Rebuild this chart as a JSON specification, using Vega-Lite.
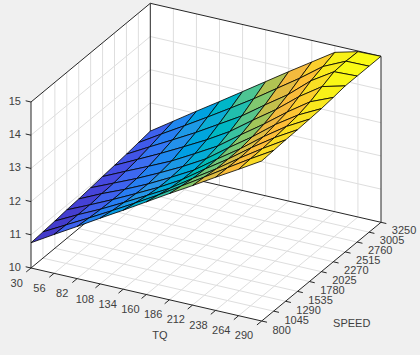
{"$schema":"https://vega.github.io/schema/vega-lite/v6.json","width":420,"height":355,"padding":0,"autosize":{"type":"fit","contains":"padding"},"background":"#f0f0f0","config":{"view":{"stroke":null}},
"datasets":{
"wall":[{"tq":30,"speed":800,"z":10,"k":0},{"tq":290,"speed":800,"z":10,"k":1},{"tq":290,"speed":3250,"z":10,"k":2},{"tq":290,"speed":3250,"z":15,"k":3},{"tq":30,"speed":3250,"z":15,"k":4},{"tq":30,"speed":800,"z":15,"k":5}],
"grid":[
{"tq":56,"speed":800,"z":10,"tq2":56,"speed2":3250,"z2":10},{"tq":82,"speed":800,"z":10,"tq2":82,"speed2":3250,"z2":10},{"tq":108,"speed":800,"z":10,"tq2":108,"speed2":3250,"z2":10},{"tq":134,"speed":800,"z":10,"tq2":134,"speed2":3250,"z2":10},{"tq":160,"speed":800,"z":10,"tq2":160,"speed2":3250,"z2":10},{"tq":186,"speed":800,"z":10,"tq2":186,"speed2":3250,"z2":10},{"tq":212,"speed":800,"z":10,"tq2":212,"speed2":3250,"z2":10},{"tq":238,"speed":800,"z":10,"tq2":238,"speed2":3250,"z2":10},{"tq":264,"speed":800,"z":10,"tq2":264,"speed2":3250,"z2":10},
{"tq":30,"speed":1045,"z":10,"tq2":290,"speed2":1045,"z2":10},{"tq":30,"speed":1290,"z":10,"tq2":290,"speed2":1290,"z2":10},{"tq":30,"speed":1535,"z":10,"tq2":290,"speed2":1535,"z2":10},{"tq":30,"speed":1780,"z":10,"tq2":290,"speed2":1780,"z2":10},{"tq":30,"speed":2025,"z":10,"tq2":290,"speed2":2025,"z2":10},{"tq":30,"speed":2270,"z":10,"tq2":290,"speed2":2270,"z2":10},{"tq":30,"speed":2515,"z":10,"tq2":290,"speed2":2515,"z2":10},{"tq":30,"speed":2760,"z":10,"tq2":290,"speed2":2760,"z2":10},{"tq":30,"speed":3005,"z":10,"tq2":290,"speed2":3005,"z2":10},
{"tq":56,"speed":3250,"z":10,"tq2":56,"speed2":3250,"z2":15},{"tq":82,"speed":3250,"z":10,"tq2":82,"speed2":3250,"z2":15},{"tq":108,"speed":3250,"z":10,"tq2":108,"speed2":3250,"z2":15},{"tq":134,"speed":3250,"z":10,"tq2":134,"speed2":3250,"z2":15},{"tq":160,"speed":3250,"z":10,"tq2":160,"speed2":3250,"z2":15},{"tq":186,"speed":3250,"z":10,"tq2":186,"speed2":3250,"z2":15},{"tq":212,"speed":3250,"z":10,"tq2":212,"speed2":3250,"z2":15},{"tq":238,"speed":3250,"z":10,"tq2":238,"speed2":3250,"z2":15},{"tq":264,"speed":3250,"z":10,"tq2":264,"speed2":3250,"z2":15},
{"tq":30,"speed":1045,"z":10,"tq2":30,"speed2":1045,"z2":15},{"tq":30,"speed":1290,"z":10,"tq2":30,"speed2":1290,"z2":15},{"tq":30,"speed":1535,"z":10,"tq2":30,"speed2":1535,"z2":15},{"tq":30,"speed":1780,"z":10,"tq2":30,"speed2":1780,"z2":15},{"tq":30,"speed":2025,"z":10,"tq2":30,"speed2":2025,"z2":15},{"tq":30,"speed":2270,"z":10,"tq2":30,"speed2":2270,"z2":15},{"tq":30,"speed":2515,"z":10,"tq2":30,"speed2":2515,"z2":15},{"tq":30,"speed":2760,"z":10,"tq2":30,"speed2":2760,"z2":15},{"tq":30,"speed":3005,"z":10,"tq2":30,"speed2":3005,"z2":15},
{"tq":30,"speed":800,"z":11,"tq2":30,"speed2":3250,"z2":11},{"tq":30,"speed":800,"z":12,"tq2":30,"speed2":3250,"z2":12},{"tq":30,"speed":800,"z":13,"tq2":30,"speed2":3250,"z2":13},{"tq":30,"speed":800,"z":14,"tq2":30,"speed2":3250,"z2":14},
{"tq":30,"speed":3250,"z":11,"tq2":290,"speed2":3250,"z2":11},{"tq":30,"speed":3250,"z":12,"tq2":290,"speed2":3250,"z2":12},{"tq":30,"speed":3250,"z":13,"tq2":290,"speed2":3250,"z2":13},{"tq":30,"speed":3250,"z":14,"tq2":290,"speed2":3250,"z2":14}],
"box":[
{"tq":30,"speed":800,"z":10,"tq2":290,"speed2":800,"z2":10},{"tq":290,"speed":800,"z":10,"tq2":290,"speed2":3250,"z2":10},{"tq":30,"speed":800,"z":10,"tq2":30,"speed2":3250,"z2":10},{"tq":30,"speed":3250,"z":10,"tq2":290,"speed2":3250,"z2":10},{"tq":30,"speed":800,"z":10,"tq2":30,"speed2":800,"z2":15},{"tq":30,"speed":3250,"z":10,"tq2":30,"speed2":3250,"z2":15},{"tq":290,"speed":3250,"z":10,"tq2":290,"speed2":3250,"z2":15},{"tq":30,"speed":800,"z":15,"tq2":30,"speed2":3250,"z2":15},{"tq":30,"speed":3250,"z":15,"tq2":290,"speed2":3250,"z2":15},
{"tq":30,"speed":800,"z":10,"tq2":30,"speed2":702,"z2":10},{"tq":56,"speed":800,"z":10,"tq2":56,"speed2":702,"z2":10},{"tq":82,"speed":800,"z":10,"tq2":82,"speed2":702,"z2":10},{"tq":108,"speed":800,"z":10,"tq2":108,"speed2":702,"z2":10},{"tq":134,"speed":800,"z":10,"tq2":134,"speed2":702,"z2":10},{"tq":160,"speed":800,"z":10,"tq2":160,"speed2":702,"z2":10},{"tq":186,"speed":800,"z":10,"tq2":186,"speed2":702,"z2":10},{"tq":212,"speed":800,"z":10,"tq2":212,"speed2":702,"z2":10},{"tq":238,"speed":800,"z":10,"tq2":238,"speed2":702,"z2":10},{"tq":264,"speed":800,"z":10,"tq2":264,"speed2":702,"z2":10},{"tq":290,"speed":800,"z":10,"tq2":290,"speed2":702,"z2":10},
{"tq":290,"speed":800,"z":10,"tq2":296,"speed2":800,"z2":10},{"tq":290,"speed":1045,"z":10,"tq2":296,"speed2":1045,"z2":10},{"tq":290,"speed":1290,"z":10,"tq2":296,"speed2":1290,"z2":10},{"tq":290,"speed":1535,"z":10,"tq2":296,"speed2":1535,"z2":10},{"tq":290,"speed":1780,"z":10,"tq2":296,"speed2":1780,"z2":10},{"tq":290,"speed":2025,"z":10,"tq2":296,"speed2":2025,"z2":10},{"tq":290,"speed":2270,"z":10,"tq2":296,"speed2":2270,"z2":10},{"tq":290,"speed":2515,"z":10,"tq2":296,"speed2":2515,"z2":10},{"tq":290,"speed":2760,"z":10,"tq2":296,"speed2":2760,"z2":10},{"tq":290,"speed":3005,"z":10,"tq2":296,"speed2":3005,"z2":10},{"tq":290,"speed":3250,"z":10,"tq2":296,"speed2":3250,"z2":10},
{"tq":30,"speed":800,"z":10,"tq2":24,"speed2":800,"z2":10},{"tq":30,"speed":800,"z":11,"tq2":24,"speed2":800,"z2":11},{"tq":30,"speed":800,"z":12,"tq2":24,"speed2":800,"z2":12},{"tq":30,"speed":800,"z":13,"tq2":24,"speed2":800,"z2":13},{"tq":30,"speed":800,"z":14,"tq2":24,"speed2":800,"z2":14},{"tq":30,"speed":800,"z":15,"tq2":24,"speed2":800,"z2":15}],
"surface":[
{"tq":30,"speed":3250,"z":11.15},{"tq":56,"speed":3250,"z":11.61},{"tq":82,"speed":3250,"z":12.07},{"tq":108,"speed":3250,"z":12.52},{"tq":134,"speed":3250,"z":12.98},{"tq":160,"speed":3250,"z":13.44},{"tq":186,"speed":3250,"z":13.9},{"tq":212,"speed":3250,"z":14.35},{"tq":238,"speed":3250,"z":14.8},{"tq":264,"speed":3250,"z":14.98},{"tq":290,"speed":3250,"z":15},
{"tq":30,"speed":3005,"z":11.1},{"tq":56,"speed":3005,"z":11.52},{"tq":82,"speed":3005,"z":11.93},{"tq":108,"speed":3005,"z":12.35},{"tq":134,"speed":3005,"z":12.78},{"tq":160,"speed":3005,"z":13.22},{"tq":186,"speed":3005,"z":13.69},{"tq":212,"speed":3005,"z":14.16},{"tq":238,"speed":3005,"z":14.67},{"tq":264,"speed":3005,"z":14.99},{"tq":290,"speed":3005,"z":15},
{"tq":30,"speed":2760,"z":11.05},{"tq":56,"speed":2760,"z":11.43},{"tq":82,"speed":2760,"z":11.8},{"tq":108,"speed":2760,"z":12.18},{"tq":134,"speed":2760,"z":12.59},{"tq":160,"speed":2760,"z":13},{"tq":186,"speed":2760,"z":13.49},{"tq":212,"speed":2760,"z":13.96},{"tq":238,"speed":2760,"z":14.54},{"tq":264,"speed":2760,"z":14.97},{"tq":290,"speed":2760,"z":15},
{"tq":30,"speed":2515,"z":11.01},{"tq":56,"speed":2515,"z":11.35},{"tq":82,"speed":2515,"z":11.69},{"tq":108,"speed":2515,"z":12.05},{"tq":134,"speed":2515,"z":12.42},{"tq":160,"speed":2515,"z":12.83},{"tq":186,"speed":2515,"z":13.33},{"tq":212,"speed":2515,"z":13.81},{"tq":238,"speed":2515,"z":14.36},{"tq":264,"speed":2515,"z":14.82},{"tq":290,"speed":2515,"z":15},
{"tq":30,"speed":2270,"z":10.97},{"tq":56,"speed":2270,"z":11.29},{"tq":82,"speed":2270,"z":11.6},{"tq":108,"speed":2270,"z":11.92},{"tq":134,"speed":2270,"z":12.3},{"tq":160,"speed":2270,"z":12.69},{"tq":186,"speed":2270,"z":13.19},{"tq":212,"speed":2270,"z":13.67},{"tq":238,"speed":2270,"z":14.19},{"tq":264,"speed":2270,"z":14.66},{"tq":290,"speed":2270,"z":14.95},
{"tq":30,"speed":2025,"z":10.93},{"tq":56,"speed":2025,"z":11.23},{"tq":82,"speed":2025,"z":11.53},{"tq":108,"speed":2025,"z":11.86},{"tq":134,"speed":2025,"z":12.21},{"tq":160,"speed":2025,"z":12.6},{"tq":186,"speed":2025,"z":13.1},{"tq":212,"speed":2025,"z":13.58},{"tq":238,"speed":2025,"z":14.11},{"tq":264,"speed":2025,"z":14.56},{"tq":290,"speed":2025,"z":14.91},
{"tq":30,"speed":1780,"z":10.89},{"tq":56,"speed":1780,"z":11.21},{"tq":82,"speed":1780,"z":11.5},{"tq":108,"speed":1780,"z":11.82},{"tq":134,"speed":1780,"z":12.18},{"tq":160,"speed":1780,"z":12.56},{"tq":186,"speed":1780,"z":13.05},{"tq":212,"speed":1780,"z":13.52},{"tq":238,"speed":1780,"z":14.04},{"tq":264,"speed":1780,"z":14.51},{"tq":290,"speed":1780,"z":14.89},
{"tq":30,"speed":1535,"z":10.86},{"tq":56,"speed":1535,"z":11.17},{"tq":82,"speed":1535,"z":11.49},{"tq":108,"speed":1535,"z":11.83},{"tq":134,"speed":1535,"z":12.18},{"tq":160,"speed":1535,"z":12.57},{"tq":186,"speed":1535,"z":13.05},{"tq":212,"speed":1535,"z":13.51},{"tq":238,"speed":1535,"z":14.01},{"tq":264,"speed":1535,"z":14.47},{"tq":290,"speed":1535,"z":14.87},
{"tq":30,"speed":1290,"z":10.82},{"tq":56,"speed":1290,"z":11.17},{"tq":82,"speed":1290,"z":11.5},{"tq":108,"speed":1290,"z":11.86},{"tq":134,"speed":1290,"z":12.23},{"tq":160,"speed":1290,"z":12.61},{"tq":186,"speed":1290,"z":13.07},{"tq":212,"speed":1290,"z":13.51},{"tq":238,"speed":1290,"z":13.99},{"tq":264,"speed":1290,"z":14.44},{"tq":290,"speed":1290,"z":14.86},
{"tq":30,"speed":1045,"z":10.79},{"tq":56,"speed":1045,"z":11.16},{"tq":82,"speed":1045,"z":11.53},{"tq":108,"speed":1045,"z":11.91},{"tq":134,"speed":1045,"z":12.3},{"tq":160,"speed":1045,"z":12.7},{"tq":186,"speed":1045,"z":13.13},{"tq":212,"speed":1045,"z":13.56},{"tq":238,"speed":1045,"z":14},{"tq":264,"speed":1045,"z":14.43},{"tq":290,"speed":1045,"z":14.84},
{"tq":30,"speed":800,"z":10.76},{"tq":56,"speed":800,"z":11.17},{"tq":82,"speed":800,"z":11.57},{"tq":108,"speed":800,"z":11.98},{"tq":134,"speed":800,"z":12.38},{"tq":160,"speed":800,"z":12.79},{"tq":186,"speed":800,"z":13.2},{"tq":212,"speed":800,"z":13.6},{"tq":238,"speed":800,"z":14.01},{"tq":264,"speed":800,"z":14.41},{"tq":290,"speed":800,"z":14.82}]
},
"encoding":{"x":{"field":"px","type":"quantitative","axis":null,"scale":{"domain":[0,420],"nice":false,"zero":false}},"y":{"field":"py","type":"quantitative","axis":null,"scale":{"domain":[355,0],"nice":false,"zero":false}}},
"layer":[
{"data":{"name":"wall"},"transform":[{"calculate":"31+230.7*(datum.tq-30)/260+119.3*(datum.speed-800)/2450","as":"px"},{"calculate":"268+53*(datum.tq-30)/260-98.7*(datum.speed-800)/2450-33.2*(datum.z-10)","as":"py"}],
"mark":{"type":"line","interpolate":"linear-closed","fill":"#ffffff","stroke":null},"encoding":{"order":{"field":"k","type":"ordinal"}}},
{"data":{"name":"grid"},"transform":[{"calculate":"31+230.7*(datum.tq-30)/260+119.3*(datum.speed-800)/2450","as":"px"},{"calculate":"268+53*(datum.tq-30)/260-98.7*(datum.speed-800)/2450-33.2*(datum.z-10)","as":"py"},{"calculate":"31+230.7*(datum.tq2-30)/260+119.3*(datum.speed2-800)/2450","as":"px2"},{"calculate":"268+53*(datum.tq2-30)/260-98.7*(datum.speed2-800)/2450-33.2*(datum.z2-10)","as":"py2"}],
"mark":{"type":"rule","color":"#dedede","strokeWidth":1},"encoding":{"x2":{"field":"px2"},"y2":{"field":"py2"}}},
{"data":{"name":"box"},"transform":[{"calculate":"31+230.7*(datum.tq-30)/260+119.3*(datum.speed-800)/2450","as":"px"},{"calculate":"268+53*(datum.tq-30)/260-98.7*(datum.speed-800)/2450-33.2*(datum.z-10)","as":"py"},{"calculate":"31+230.7*(datum.tq2-30)/260+119.3*(datum.speed2-800)/2450","as":"px2"},{"calculate":"268+53*(datum.tq2-30)/260-98.7*(datum.speed2-800)/2450-33.2*(datum.z2-10)","as":"py2"}],
"mark":{"type":"rule","color":"#262626","strokeWidth":1},"encoding":{"x2":{"field":"px2"},"y2":{"field":"py2"}}},
{"data":{"name":"surface"},"transform":[{"calculate":"(datum.tq-30)/26","as":"i"},{"calculate":"(datum.speed-800)/245","as":"j"},{"calculate":"[0,1,2,3]","as":"corners"},{"flatten":["corners"],"as":["corner"]},{"calculate":"datum.i-((datum.corner==1||datum.corner==2)?1:0)","as":"ci"},{"calculate":"datum.j-(datum.corner>=2?1:0)","as":"cj"},{"filter":"datum.ci>=0&&datum.ci<10&&datum.cj>=0&&datum.cj<10"},{"calculate":"datum.ci+'_'+datum.cj","as":"cell"},{"joinaggregate":[{"op":"mean","field":"z","as":"cz"}],"groupby":["cell"]},{"calculate":"31+230.7*(datum.tq-30)/260+119.3*(datum.speed-800)/2450","as":"px"},{"calculate":"268+53*(datum.tq-30)/260-98.7*(datum.speed-800)/2450-33.2*(datum.z-10)","as":"py"}],
"mark":{"type":"line","interpolate":"linear-closed","stroke":"#000000","strokeWidth":0.8},
"encoding":{"detail":{"field":"cell"},"order":{"field":"corner","type":"ordinal"},"fill":{"field":"cz","type":"quantitative","legend":null,"scale":{"domain":[10.76,11.1,11.5,12,12.5,12.95,13.35,13.65,13.9,14.3,14.6,14.85,15],"range":["#3E26A8","#4648E0","#3C70F4","#2A95E8","#12AED4","#30C0A8","#80C870","#C4C04C","#F0B840","#FDBE38","#F9D828","#F8F018","#F9FB15"]}}}},
{"data":{"values":[{"tq":30,"label":"30"},{"tq":56,"label":"56"},{"tq":82,"label":"82"},{"tq":108,"label":"108"},{"tq":134,"label":"134"},{"tq":160,"label":"160"},{"tq":186,"label":"186"},{"tq":212,"label":"212"},{"tq":238,"label":"238"},{"tq":264,"label":"264"},{"tq":290,"label":"290"}]},"transform":[{"calculate":"16.7+227.3/260*(datum.tq-30)","as":"px"},{"calculate":"284+52/260*(datum.tq-30)","as":"py"}],
"mark":{"type":"text","font":"Liberation Sans","fontSize":11,"color":"#404040","align":"center","baseline":"middle"},"encoding":{"text":{"field":"label"}}},
{"data":{"values":[{"speed":800,"label":"800"},{"speed":1045,"label":"1045"},{"speed":1290,"label":"1290"},{"speed":1535,"label":"1535"},{"speed":1780,"label":"1780"},{"speed":2025,"label":"2025"},{"speed":2270,"label":"2270"},{"speed":2515,"label":"2515"},{"speed":2760,"label":"2760"},{"speed":3005,"label":"3005"},{"speed":3250,"label":"3250"}]},"transform":[{"calculate":"272.5+119.3*(datum.speed-800)/2450","as":"px"},{"calculate":"331-100*(datum.speed-800)/2450","as":"py"}],
"mark":{"type":"text","font":"Liberation Sans","fontSize":11,"color":"#404040","align":"left","baseline":"middle"},"encoding":{"text":{"field":"label"}}},
{"data":{"values":[{"z":10,"label":"10"},{"z":11,"label":"11"},{"z":12,"label":"12"},{"z":13,"label":"13"},{"z":14,"label":"14"},{"z":15,"label":"15"}]},"transform":[{"calculate":"21","as":"px"},{"calculate":"268-33.2*(datum.z-10)","as":"py"}],
"mark":{"type":"text","font":"Liberation Sans","fontSize":11,"color":"#404040","align":"right","baseline":"middle"},"encoding":{"text":{"field":"label"}}},
{"data":{"values":[{"label":"TQ"},{"label":"SPEED"}]},"transform":[{"calculate":"datum.label=='TQ'?160:351.7","as":"px"},{"calculate":"datum.label=='TQ'?336:324","as":"py"}],
"mark":{"type":"text","font":"Liberation Sans","fontSize":11,"color":"#404040","align":"center","baseline":"middle"},"encoding":{"text":{"field":"label"}}}
]}
